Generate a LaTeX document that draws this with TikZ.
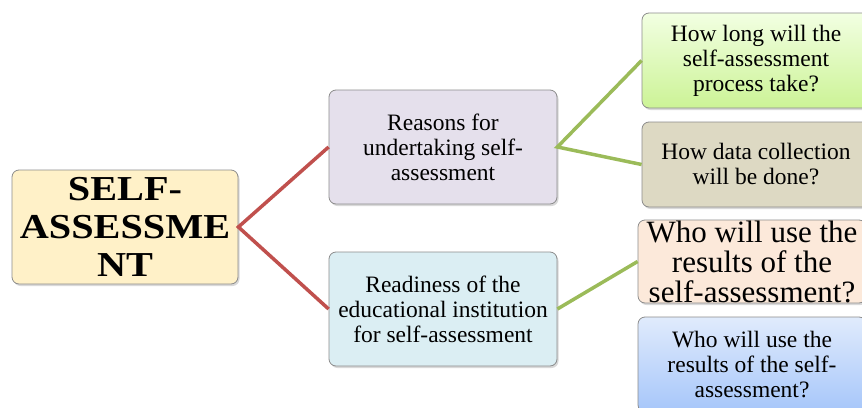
\documentclass[tikz,border=0pt]{standalone}
\usepackage{fontspec}
\setmainfont{Liberation Serif}
\newfontfamily\rootfont[FakeStretch=1.15]{Liberation Serif}
\usetikzlibrary{shadows}
\definecolor{node_gray}{RGB}{140,140,140}
\definecolor{edge_red}{RGB}{192,80,77}
\definecolor{edge_green}{RGB}{155,187,89}
\definecolor{fill_yellow}{RGB}{255,241,200}
\definecolor{fill_lilac}{RGB}{229,224,236}
\definecolor{fill_cyan}{RGB}{219,238,243}
\definecolor{fill_green_top}{RGB}{242,255,226}
\definecolor{fill_green_bot}{RGB}{204,243,150}
\definecolor{fill_tan}{RGB}{221,217,195}
\definecolor{fill_peach}{RGB}{252,233,218}
\definecolor{fill_blue_top}{RGB}{224,235,252}
\definecolor{fill_blue_bot}{RGB}{166,198,250}

\begin{document}
\begin{tikzpicture}[x=1pt,y=-1pt]
    \tikzstyle{box}=[draw=node_gray, line width=0.8pt, rounded corners=7pt, align=center, text=black, inner sep=0pt, drop shadow={shadow xshift=1.5pt, shadow yshift=-2pt, opacity=0.3}, font=\fontsize{23.5}{25}\selectfont]
    \tikzstyle{root}=[style=box, fill=fill_yellow, minimum width=226pt, minimum height=114pt, font=\rootfont\bfseries\fontsize{35}{38}\selectfont]
    \tikzstyle{topic}=[style=box, minimum width=228pt, minimum height=114pt]
    \tikzstyle{quest}=[style=box, minimum width=228pt]
    \tikzstyle{link}=[line width=3.5pt]

    \clip (0,0) rectangle (862,407);

    \node[root] (self) at (125,227) {SELF-\\ASSESSME\\NT};
    \node[topic, fill=fill_lilac] (reasons) at (443,147) {Reasons for\\undertaking self-\\assessment};
    \node[topic, fill=fill_cyan]  (ready)   at (443,309) {Readiness of the\\educational institution\\for self-assessment};
    \node[quest, minimum height=95pt, top color=fill_green_top, bottom color=fill_green_bot] (qa) at (756,60.5)  {How long will the\\self-assessment\\process take?};
    \node[quest, minimum height=85pt, fill=fill_tan] (qb) at (756,164.5) {How data collection\\will be done?};
    \node[quest, minimum height=83pt, fill=fill_peach, font=\fontsize{31}{30}\selectfont] (qc) at (752,261.5) {Who will use the\\results of the\\self-assessment?};
    \node[quest, minimum height=95pt, top color=fill_blue_top, bottom color=fill_blue_bot] (qd) at (752,364.5) {Who will use the\\results of the self-\\assessment?};

    \draw[link, edge_red]   (reasons.west) -- (self.east) -- (ready.west);
    \draw[link, edge_green] (qa.west) -- (reasons.east) -- (qb.west);
    \draw[link, edge_green] (ready.east) -- (qc.west);
\end{tikzpicture}
\end{document}
